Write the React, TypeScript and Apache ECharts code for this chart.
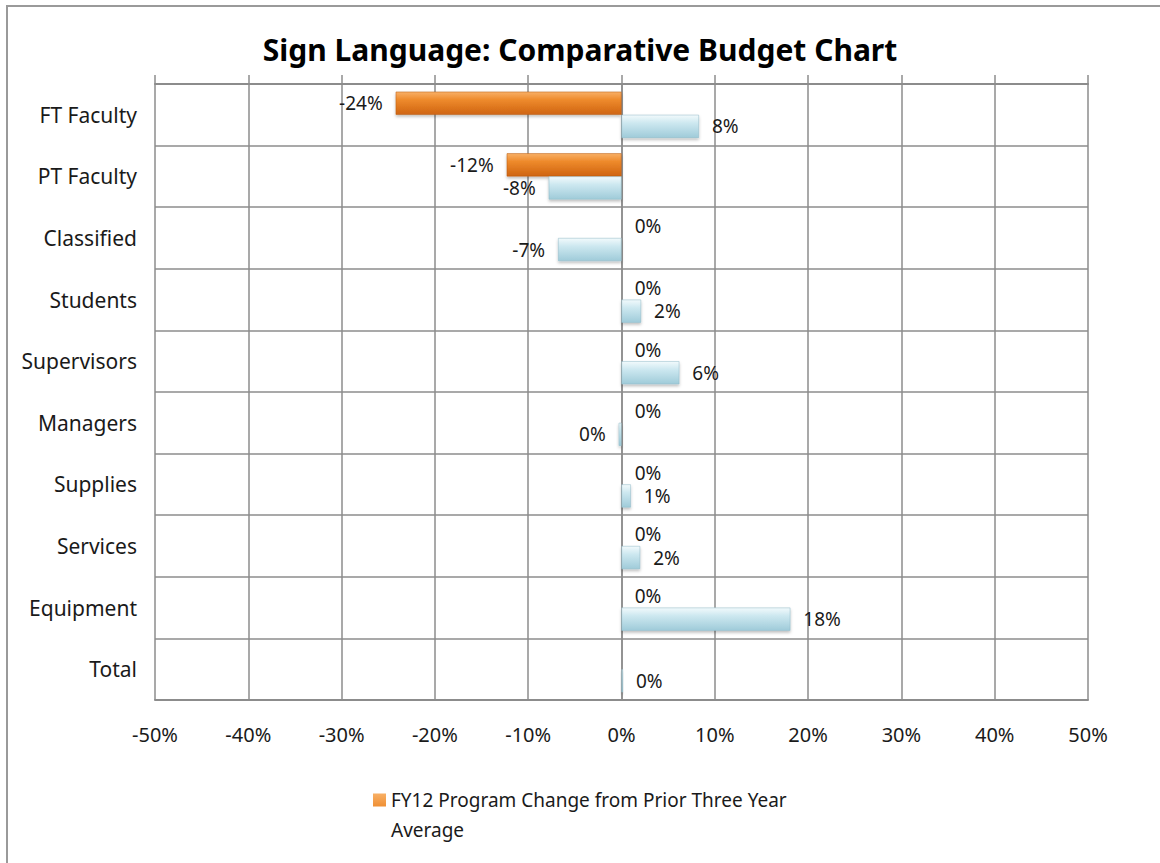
import React, { useEffect, useRef } from "react";
import * as echarts from "echarts";

const categories = [
  "FT Faculty",
  "PT Faculty",
  "Classified",
  "Students",
  "Supervisors",
  "Managers",
  "Supplies",
  "Services",
  "Equipment",
  "Total",
];
const programChange: (number | null)[] = [-24.2, -12.3, 0, 0, 0, 0, 0, 0, 0, null];
const otherChange: number[] = [8.3, -7.8, -6.8, 2.1, 6.2, -0.3, 1.0, 2.0, 18.1, 0.15];
const xTicks = [-50, -40, -30, -20, -10, 0, 10, 20, 30, 40, 50];
const titleText = "Sign Language: Comparative Budget Chart";
const legendName = "FY12 Program Change from Prior Three Year Average";
const otherName = "Other";

const fmt = (v: number) => {
  const r = Math.round(v);
  return `${r === 0 ? 0 : r}%`;
};

export default function App() {
  const ref = useRef<HTMLDivElement>(null);
  useEffect(() => {
    document.body.style.margin = "0";
    const chart = echarts.init(ref.current!, null, { renderer: "svg" });
    const grid = "#8c8c8c";
    const labelStyle = {
      show: true,
      distance: 13,
      color: "#1a1a1a",
      fontSize: 19,
      fontFamily: "Noto Sans",
      formatter: (p: any) => fmt(p.value),
    };
    const mk = (arr: (number | null)[]) =>
      arr.map((v) =>
        v === null
          ? { value: null, label: { show: false } }
          : { value: v, label: { position: v < 0 ? "left" : "right" } }
      );
    const orange = new echarts.graphic.LinearGradient(0, 0, 0, 1, [
      { offset: 0, color: "#F8B066" },
      { offset: 0.35, color: "#EE8A2C" },
      { offset: 1, color: "#CF6410" },
    ]);
    const blue = new echarts.graphic.LinearGradient(0, 0, 0, 1, [
      { offset: 0, color: "#F2FAFC" },
      { offset: 0.35, color: "#CDE8F0" },
      { offset: 1, color: "#9FCBD9" },
    ]);
    chart.setOption({
      animation: false,
      title: {
        text: titleText,
        left: "center",
        top: 29,
        textStyle: {
          fontFamily: "Noto Sans",
          fontWeight: "bold",
          fontSize: 30,
          color: "#000",
        },
      },
      graphic: [
        {
          type: "rect",
          shape: { x: 7, y: 6, width: 1175, height: 880 },
          style: { fill: "none", stroke: "#9a9a9a", lineWidth: 2 },
          silent: true,
        },
      ],
      legend: {
        data: [legendName],
        left: 368,
        top: 780,
        icon: "path://M0,0H13V13H0Z M0,43H0.001V43.001H0Z",
        itemWidth: 13,
        itemHeight: 43,
        itemGap: 6,
        itemStyle: { borderWidth: 0, shadowBlur: 0, shadowOffsetY: 0 },
        formatter: () => "FY12 Program Change from Prior Three Year\nAverage",
        textStyle: {
          fontFamily: "Noto Sans",
          fontSize: 19,
          color: "#1a1a1a",
          lineHeight: 30,
        },
      },
      grid: { left: 155, right: 72, top: 84, bottom: 163 },
      xAxis: [
        {
          type: "value",
          position: "bottom",
          min: -50,
          max: 50,
          interval: 10,
          axisLine: { show: true, lineStyle: { color: grid, width: 2 } },
          axisTick: { show: false },
          splitLine: { show: true, lineStyle: { color: grid, width: 1.5 } },
          axisLabel: {
            margin: 24,
            fontSize: 20,
            fontFamily: "Noto Sans",
            color: "#1a1a1a",
            formatter: (v: number) => (xTicks.includes(v) ? `${v}%` : ""),
          },
        },
        {
          type: "value",
          position: "top",
          min: -50,
          max: 50,
          interval: 10,
          axisLine: { show: true, lineStyle: { color: grid, width: 2 } },
          axisTick: { show: true, inside: false, length: 9, lineStyle: { color: grid, width: 1.5 } },
          splitLine: { show: false },
          axisLabel: { show: false },
        },
      ],
      yAxis: {
        type: "category",
        inverse: true,
        data: categories,
        axisLine: { show: true, lineStyle: { color: grid, width: 1.5 } },
        axisTick: { show: false },
        splitLine: { show: true, lineStyle: { color: grid, width: 1.5 } },
        axisLabel: {
          margin: 18,
          fontSize: 21,
          fontFamily: "Noto Sans",
          color: "#1a1a1a",
        },
      },
      series: [
        {
          name: legendName,
          type: "bar",
          data: mk(programChange),
          barGap: "0%",
          barCategoryGap: "25%",
          itemStyle: {
            color: orange,
            borderColor: "#B85A12",
            borderWidth: 0.5,
            shadowColor: "rgba(0,0,0,0.25)",
            shadowBlur: 3,
            shadowOffsetY: 2,
          },
          label: labelStyle,
        },
        {
          name: otherName,
          type: "bar",
          data: mk(otherChange),
          barGap: "0%",
          barCategoryGap: "25%",
          itemStyle: {
            color: blue,
            borderColor: "#8FB8C6",
            borderWidth: 0.5,
            shadowColor: "rgba(0,0,0,0.25)",
            shadowBlur: 3,
            shadowOffsetY: 2,
          },
          label: labelStyle,
        },
      ],
    });
    return () => chart.dispose();
  }, []);
  return <div ref={ref} style={{ width: 1160, height: 863 }} />;
}
